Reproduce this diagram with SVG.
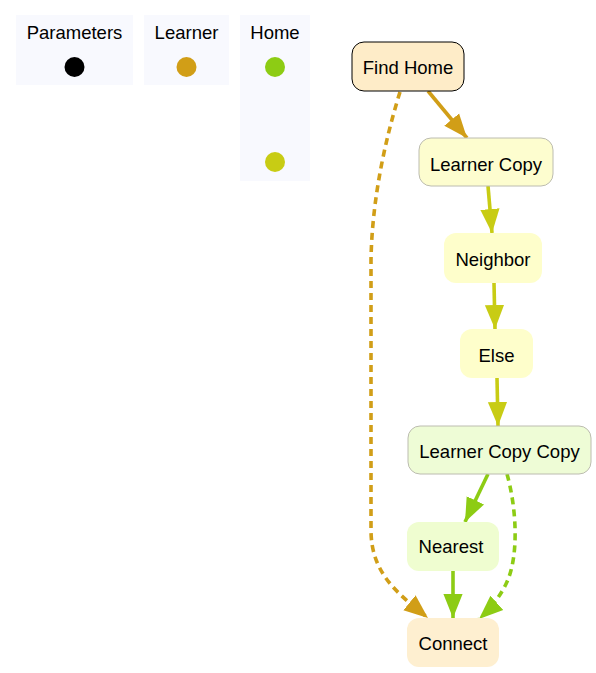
<svg xmlns="http://www.w3.org/2000/svg" width="596" height="673" viewBox="0 0 596 673">
<style>
  text { font-family: "Liberation Sans", Arial, sans-serif; font-size: 18.5px; fill: #000; text-anchor: middle; }
  .legend { fill: #f8f9fe; }
  .edge { fill: none; stroke-width: 3.6; }
  .dash { stroke-dasharray: 7 5; }
  .gold { stroke: #d19e17; }
  .yel { stroke: #c8cc14; }
  .grn { stroke: #8dcc14; }
</style>
<defs>
  <marker id="aGold" markerUnits="userSpaceOnUse" markerWidth="24" markerHeight="24" viewBox="0 0 20 16" refX="20" refY="8" orient="auto">
    <path d="M0,0 L20,8 L0,16 Z" fill="#d19e17"/>
  </marker>
  <marker id="aYel" markerUnits="userSpaceOnUse" markerWidth="24" markerHeight="24" viewBox="0 0 20 16" refX="20" refY="8" orient="auto">
    <path d="M0,0 L20,8 L0,16 Z" fill="#c8cc14"/>
  </marker>
  <marker id="aGrn" markerUnits="userSpaceOnUse" markerWidth="24" markerHeight="24" viewBox="0 0 20 16" refX="20" refY="8" orient="auto">
    <path d="M0,0 L20,8 L0,16 Z" fill="#8dcc14"/>
  </marker>
</defs>
<rect width="596" height="673" fill="#ffffff"/>

<g id="legend-parameters">
  <rect class="legend" x="16" y="15" width="117" height="70"/>
  <text x="74.5" y="39">Parameters</text>
  <circle cx="74.5" cy="67" r="10" fill="#000000"/>
</g>
<g id="legend-learner">
  <rect class="legend" x="144" y="15" width="85" height="70"/>
  <text x="186.5" y="39">Learner</text>
  <circle cx="186.5" cy="67" r="10" fill="#d19e17"/>
</g>
<g id="legend-home">
  <rect class="legend" x="240" y="15" width="70" height="166"/>
  <text x="275" y="39">Home</text>
  <circle cx="275" cy="67" r="10" fill="#8dcc14"/>
  <circle cx="275" cy="162" r="10" fill="#c8cc14"/>
</g>

<g id="connectors">
  <path class="edge gold" d="M428,91 L467,138" marker-end="url(#aGold)"/>
  <path class="edge gold dash" d="M400,92 C385,140 372,200 371,260 L371,530 C371,575 400,595 428,618" marker-end="url(#aGold)"/>
  <path class="edge yel" d="M488,186 L492,233" marker-end="url(#aYel)"/>
  <path class="edge yel" d="M494,283 L495,329" marker-end="url(#aYel)"/>
  <path class="edge yel" d="M497,378 L498,426" marker-end="url(#aYel)"/>
  <path class="edge grn" d="M488,474 L465,522" marker-end="url(#aGrn)"/>
  <path class="edge grn" d="M453,571 L453,618" marker-end="url(#aGrn)"/>
  <path class="edge grn dash" d="M507,474 C517,510 519,558 506,584 C498,600 489,610 479,619" marker-end="url(#aGrn)"/>
</g>

<g id="node-find-home">
  <rect x="352" y="42" width="112" height="49" rx="12" fill="#feecc8" stroke="#000000" stroke-width="1"/>
  <text x="408" y="74">Find Home</text>
</g>
<g id="node-learner-copy">
  <rect x="419" y="138" width="134" height="48" rx="12" fill="#fdfdcf" stroke="#bcbcb0" stroke-width="1"/>
  <text x="486" y="171">Learner Copy</text>
</g>
<g id="node-neighbor">
  <rect x="444" y="233" width="98" height="50" rx="12" fill="#fefecb"/>
  <text x="493" y="266">Neighbor</text>
</g>
<g id="node-else">
  <rect x="460" y="329" width="73" height="49" rx="12" fill="#fefecb"/>
  <text x="496.5" y="362">Else</text>
</g>
<g id="node-learner-copy-copy">
  <rect x="408" y="426" width="183" height="48" rx="12" fill="#eefcd6" stroke="#bcbcb0" stroke-width="1"/>
  <text x="499.5" y="458">Learner Copy Copy</text>
</g>
<g id="node-nearest">
  <rect x="407" y="522" width="92" height="49" rx="12" fill="#effdd0"/>
  <text x="451" y="553">Nearest</text>
</g>
<g id="node-connect">
  <rect x="407" y="618" width="92" height="49" rx="12" fill="#feefd0"/>
  <text x="453" y="650">Connect</text>
</g>
</svg>
